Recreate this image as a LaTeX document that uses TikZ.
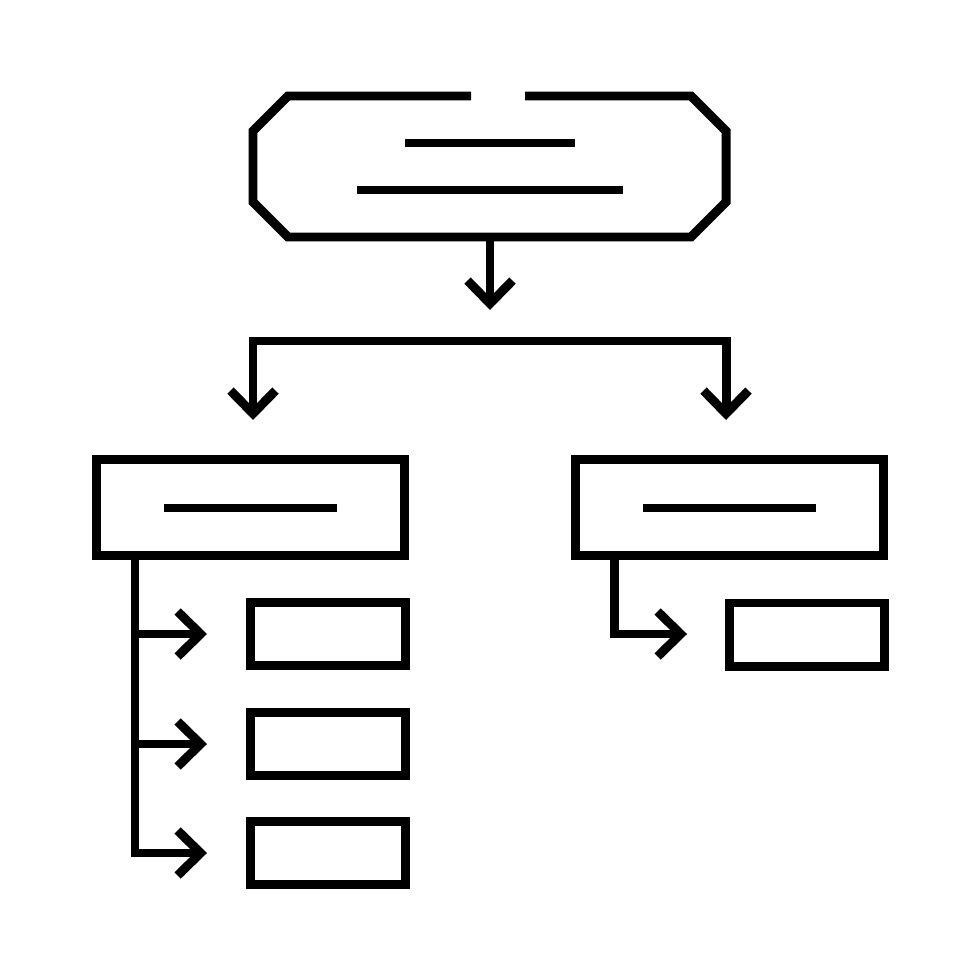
\documentclass[tikz,border=0pt]{standalone}
\usepackage{tikz}
\usetikzlibrary{arrows.meta,positioning}

\begin{document}
\begin{tikzpicture}[x=0.01cm,y=-0.01cm,line width=2.55pt,line join=miter,
	>={Straight Barb[length=2.3mm,width=4.5mm,sharp]},
	box/.style={draw,rectangle,outer sep=0pt,inner sep=0pt,minimum width=3.08cm,minimum height=0.95cm},
	leaf/.style={draw,rectangle,outer sep=0pt,inner sep=0pt,minimum width=1.545cm,minimum height=0.63cm}]
	\useasboundingbox (0,0) rectangle (980,980);

	\node[rectangle,outer sep=0pt,inner sep=0pt,minimum width=4.73cm,minimum height=1.41cm] (root) at (490,166.5) {};
	\draw (471,96) -- (288,96) -- (253,131) -- (253,202) -- (288,237) -- (691,237)
		-- (726,202) -- (726,131) -- (691,96) -- (525,96);
	\draw (405,143) -- (575,143);
	\draw (357,190) -- (623,190);

	\node[box] (lbox) at (250.5,507.5) {};
	\node[box] (rbox) at (729.5,507.5) {};
	\draw (164,508) -- (337,508);
	\draw (643,508) -- (816,508);

	\coordinate (split) at (490,310);
	\coordinate (busL) at (253,341);
	\coordinate (busR) at (726,341);
	\coordinate (tipL) at (253,420);
	\coordinate (tipR) at (726,420);
	\draw[->] (root.south) -- (split);
	\draw[<->] (tipL) -- (busL) -- (busR) -- (tipR);

	\coordinate (ltrunk) at (135,555);
	\foreach \y/\n in {634/1,744/2,853/3}{
		\node[leaf] (leaf\n) at (327.75,\y) {};
		\coordinate (ltip\n) at (207,\y);
	}
	\draw[->] (ltrunk) |- (ltip3);
	\draw[->] (ltrunk |- ltip1) -- (ltip1);
	\draw[->] (ltrunk |- ltip2) -- (ltip2);

	\node[leaf] (rleaf) at (806.75,634.5) {};
	\coordinate (rtrunk) at (614,555);
	\coordinate (rtip) at (687,634);
	\draw[->] (rtrunk) |- (rtip);
\end{tikzpicture}
\end{document}
